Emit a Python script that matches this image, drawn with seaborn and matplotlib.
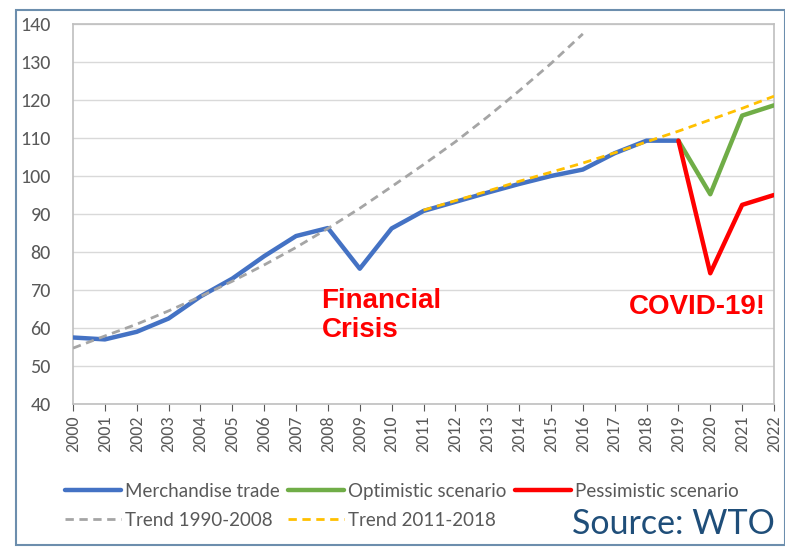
import matplotlib
matplotlib.use("Agg")
import matplotlib.pyplot as plt
import seaborn as sns
import pandas as pd
from matplotlib.lines import Line2D
from matplotlib.patches import Rectangle

years = list(range(2000, 2023))
trade_years = list(range(2000, 2020))
trade = [57.5, 57.0, 59.0, 62.5, 68.3, 73.0, 78.9, 84.2, 86.3, 75.6, 86.2,
         90.8, 93.2, 95.6, 97.9, 100.0, 101.7, 106.0, 109.3, 109.3]
scen_years = [2019, 2020, 2021, 2022]
optimistic = [109.3, 95.2, 115.9, 118.6]
pessimistic = [109.3, 74.4, 92.4, 95.0]
trend1_years = list(range(2000, 2017))
trend1 = [54.7, 57.9, 61.0, 64.5, 68.3, 72.3, 76.6, 81.2, 86.2, 91.5, 97.2,
          103.0, 109.0, 115.5, 122.4, 129.6, 137.4]
trend2_years = list(range(2011, 2023))
trend2 = [91.0, 93.5, 96.0, 98.6, 101.0, 103.4, 106.1, 109.0, 111.8, 114.8, 117.8, 121.0]
yticks = list(range(40, 141, 10))
labels = ["Merchandise trade", "Optimistic scenario", "Pessimistic scenario",
          "Trend 1990-2008", "Trend 2011-2018"]

sns.set_theme(style="white")
plt.rcParams["font.family"] = ["Carlito", "Lato", "DejaVu Sans"]
leg_font = ["Lato", "DejaVu Sans"]

fig = plt.figure(figsize=(7.85, 5.47), dpi=100)
ax = fig.add_axes([73/785, 1-404/547, (774-73)/785, (404-24)/547])

c_blue, c_green, c_red, c_gray, c_yel = "#4472C4", "#70AD47", "#FF0000", "#A5A5A5", "#FFC000"

sns.lineplot(x=trade_years, y=trade, ax=ax, color=c_blue, lw=3.2, zorder=3)
sns.lineplot(x=scen_years, y=optimistic, ax=ax, color=c_green, lw=3.2, zorder=3)
sns.lineplot(x=scen_years, y=pessimistic, ax=ax, color=c_red, lw=3.2, zorder=3)
sns.lineplot(x=trend1_years, y=trend1, ax=ax, color=c_gray, lw=2.0, zorder=4,
             linestyle=(0, (3, 2)))
sns.lineplot(x=trend2_years, y=trend2, ax=ax, color=c_yel, lw=2.0, zorder=4,
             linestyle=(0, (3, 2)))

ax.set_xlim(2000, 2022)
ax.set_ylim(40, 140)
ax.set_yticks(yticks)
ax.set_xticks(years)
ax.set_xticklabels([str(y) for y in years], rotation=90)
ax.tick_params(axis="x", labelsize=13, colors="#595959", length=5, width=0.8,
               direction="out", bottom=True, pad=3)
ax.tick_params(axis="y", labelsize=14.5, colors="#595959", length=0, pad=16)
ax.grid(axis="y", color="#D9D9D9", lw=1)
for s in ax.spines.values():
    s.set_color("#BFBFBF")
    s.set_linewidth(1.2)

ax.text(2007.8, 70.5, "Financial\nCrisis", color="red", fontsize=20, fontweight="bold",
        family="Liberation Sans", va="top", ha="left", linespacing=1.15)
ax.text(2021.75, 65.5, "COVID-19!", color="red", fontsize=20, fontweight="bold",
        family="Liberation Sans", va="center", ha="right")

handles = [
    Line2D([], [], color=c_blue, lw=3.2),
    Line2D([], [], color=c_gray, lw=2.0, linestyle=(0, (3, 2))),
    Line2D([], [], color=c_green, lw=3.2),
    Line2D([], [], color=c_yel, lw=2.0, linestyle=(0, (3, 2))),
    Line2D([], [], color=c_red, lw=3.2),
]
hl = [labels[0], labels[3], labels[1], labels[4], labels[2]]
leg = fig.legend(handles, hl, ncol=3, loc="upper left",
                 bbox_to_anchor=(48/785, 1-466/547), frameon=False,
                 prop={"family": leg_font, "size": 13.5},
                 handlelength=3.0, handletextpad=0.2,
                 columnspacing=0.45, labelspacing=0.62)
for t in leg.get_texts():
    t.set_color("#595959")

fig.text(775/785, 1-534/547, "Source: WTO", color="#1F4E79", fontsize=24.5,
         family=["Lato", "DejaVu Sans"], ha="right", va="baseline")

fig.patches.append(Rectangle((16/785, 1-545/547), (785-16)/785, (545-10)/547,
                             transform=fig.transFigure, fill=False,
                             edgecolor="#6C8EAD", lw=1.5))

fig.savefig("out.png", dpi=100)
